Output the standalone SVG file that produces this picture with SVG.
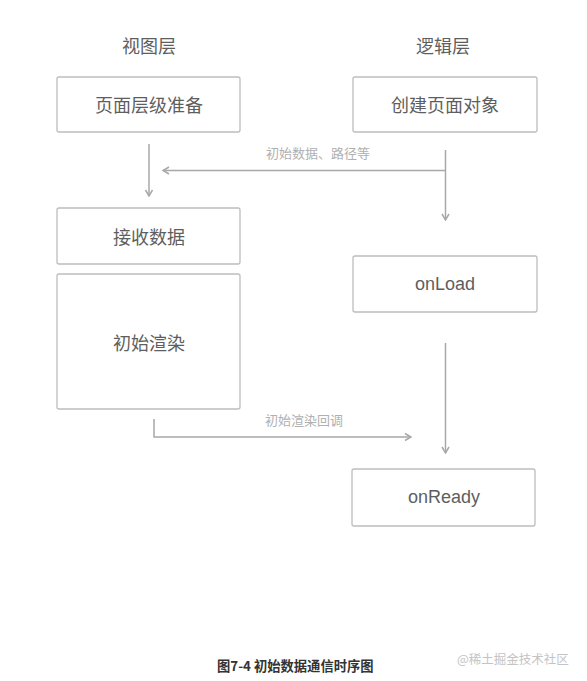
<svg xmlns="http://www.w3.org/2000/svg" width="587" height="681" viewBox="0 0 587 681">
<defs>
<style>
.box{fill:#fff;stroke:#bdbdbd;stroke-width:1.3}
.t{font-family:"Noto Sans CJK SC","Liberation Sans",sans-serif;font-size:18px;fill:#5e5e5e;text-anchor:middle;dominant-baseline:central}
.e{font-family:"Liberation Sans","Noto Sans CJK SC",sans-serif;font-size:18px;fill:#5e5e5e;text-anchor:middle;dominant-baseline:central}
.lbl{font-family:"Noto Sans CJK SC",sans-serif;font-size:13px;fill:#b0b0b0;text-anchor:middle;dominant-baseline:central}
.c{fill:none;stroke:#a8a8a8;stroke-width:1.5}
</style>
<marker id="ah" viewBox="0 0 10 10" refX="9" refY="5" markerWidth="10" markerHeight="10" markerUnits="userSpaceOnUse" orient="auto">
<polyline points="3,1.5 9,5 3,8.5" fill="none" stroke="#a8a8a8" stroke-width="1.5"/>
</marker>
</defs>
<rect width="587" height="681" fill="#fff"/>
<text class="t" x="149" y="45">视图层</text>
<text class="t" x="443" y="45">逻辑层</text>
<g id="n1"><rect class="box" x="57" y="77" width="183" height="55" rx="2"/><text class="t" x="149" y="104">页面层级准备</text></g>
<g id="n2"><rect class="box" x="353" y="77" width="184" height="55" rx="2"/><text class="t" x="445" y="104">创建页面对象</text></g>
<g id="n3"><rect class="box" x="57" y="208" width="183" height="56" rx="2"/><text class="t" x="149" y="236">接收数据</text></g>
<g id="n4"><rect class="box" x="57" y="274" width="183" height="135" rx="2"/><text class="t" x="149" y="342">初始渲染</text></g>
<g id="n5"><rect class="box" x="353" y="256" width="184" height="56" rx="2"/><text class="e" x="445" y="284">onLoad</text></g>
<g id="n6"><rect class="box" x="352" y="469" width="183" height="57" rx="2"/><text class="e" x="444" y="497">onReady</text></g>
<g id="connectors">
<line class="c" x1="149" y1="144" x2="149" y2="196" marker-end="url(#ah)"/>
<line class="c" x1="445.5" y1="150" x2="445.5" y2="220" marker-end="url(#ah)"/>
<line class="c" x1="445.5" y1="170.5" x2="163" y2="170.5" marker-end="url(#ah)"/>
<line class="c" x1="445.5" y1="343" x2="445.5" y2="453" marker-end="url(#ah)"/>
<polyline class="c" points="154,419 154,437 411,437" marker-end="url(#ah)"/>
<text class="lbl" x="318" y="152">初始数据、路径等</text>
<text class="lbl" x="304" y="419">初始渲染回调</text>
</g>
<text x="217" y="665" font-family="'Noto Sans CJK SC',sans-serif" font-size="13.3" font-weight="bold" fill="#333" dominant-baseline="central">图7-4 初始数据通信时序图</text>
<text x="457" y="658" font-family="'Noto Sans CJK SC',sans-serif" font-size="12.5" fill="#c4c4c4" dominant-baseline="central">@稀土掘金技术社区</text>
</svg>
